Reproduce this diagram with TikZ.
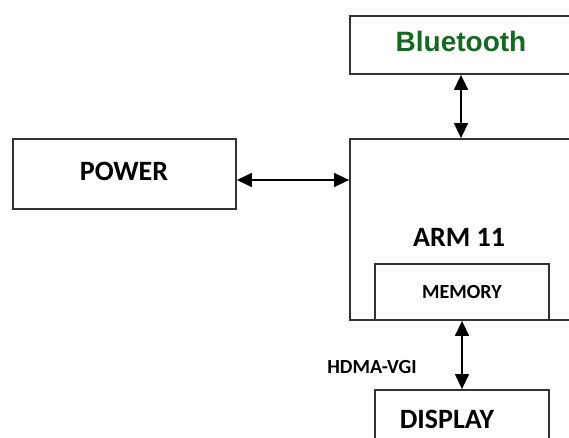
\documentclass[tikz,border=0pt]{standalone}
\usepackage{fontspec}
\setmainfont{Carlito}
\newfontfamily\arialfont{Liberation Sans}
\usetikzlibrary{arrows.meta}
\definecolor{btgreen}{RGB}{20,105,35}
\definecolor{edge}{RGB}{50,50,50}

\begin{document}
\begin{tikzpicture}[x=1pt,y=-1pt,
        >={Triangle[length=15pt,width=14pt]},
        box/.style={draw=edge,line width=1.8pt,rectangle,inner sep=0pt},
        big/.style={font=\fontsize{28}{30}\selectfont\bfseries},
        small/.style={font=\fontsize{20}{22}\selectfont\bfseries},
        arr/.style={<->,line width=1.4pt,draw=black}]
        \useasboundingbox(0,0)rectangle(569,438);
        \clip(0,0)rectangle(569,438);
        \node [box,minimum width=222pt,minimum height=58pt](bt)at(461,45){};
        \node [font=\fontsize{28}{30}\selectfont\arialfont\bfseries,text=btgreen](btt)at(461,41){Bluetooth};
        \node [box,minimum width=223pt,minimum height=70pt](p)at(124.5,174){};
        \node [big](pt)at(124,171){POWER};
        \node [box,minimum width=222pt,minimum height=181pt](arm)at(461,229.5){};
        \node [big](armt)at(459,237){ARM 11};
        \node [box,minimum width=174pt,minimum height=56pt,small](mem)at(462,292){MEMORY};
        \node [box,minimum width=174pt,minimum height=58pt](disp)at(462,419){};
        \node [big](dispt)at(447,419){DISPLAY};
        \node [small](h)at(372,367){HDMA-VGI};
        \draw[arr](p.east|-0,180)--(arm.west|-0,180);
        \draw[arr](bt.south)--(arm.north);
        \draw[arr](mem.south)--(disp.north);
        \end{tikzpicture}
\end{document}
